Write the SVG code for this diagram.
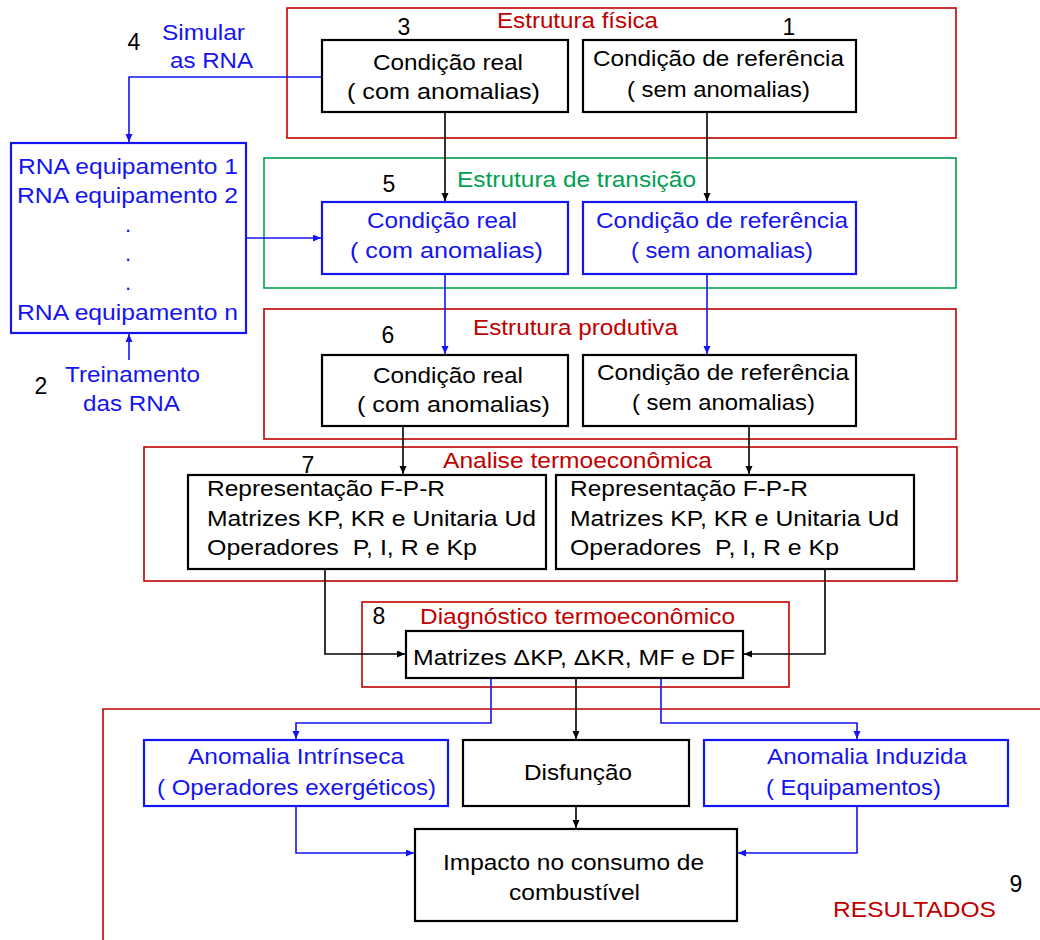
<svg xmlns="http://www.w3.org/2000/svg" width="1040" height="940" viewBox="0 0 1040 940">
  <style>
    text { font-family: "Liberation Sans", Arial, sans-serif; font-size: 22px; }
    .k { fill: #000; }
    .b { fill: #1414f0; }
    .r { fill: #c00000; }
    .g { fill: #00a050; }
    .num { fill: #000; text-anchor: middle; font-size: 23px; }
    .pre { white-space: pre; }
    .frame-r { fill: none; stroke: #c00000; stroke-width: 1.6; }
    .frame-g { fill: none; stroke: #00a050; stroke-width: 1.6; }
    .box-k { fill: #fff; stroke: #000; stroke-width: 2.2; }
    .box-b { fill: #fff; stroke: #1414f0; stroke-width: 2.2; }
    .ck { fill: none; stroke: #000; stroke-width: 1.6; marker-end: url(#ak); }
    .cb { fill: none; stroke: #1414f0; stroke-width: 1.6; marker-end: url(#ab); }
  </style>
  <defs>
    <marker id="ak" markerUnits="userSpaceOnUse" markerWidth="9" markerHeight="8" refX="8" refY="3.5" orient="auto">
      <path d="M0,0 L8,3.5 L0,7 z" fill="#000"/>
    </marker>
    <marker id="ab" markerUnits="userSpaceOnUse" markerWidth="9" markerHeight="8" refX="8" refY="3.5" orient="auto">
      <path d="M0,0 L8,3.5 L0,7 z" fill="#1414f0"/>
    </marker>
  </defs>
  <rect width="1040" height="940" fill="#fff"/>

  <!-- structure frames -->
  <g id="frames">
    <rect class="frame-r" x="287" y="8" width="669" height="130"/>
    <text class="r" x="497" y="28" textLength="161" lengthAdjust="spacingAndGlyphs">Estrutura física</text>
    <rect class="frame-g" x="264" y="158" width="692" height="130"/>
    <text class="g" x="457" y="187" textLength="239" lengthAdjust="spacingAndGlyphs">Estrutura de transição</text>
    <rect class="frame-r" x="264" y="309" width="692" height="130"/>
    <text class="r" x="473" y="335" textLength="205" lengthAdjust="spacingAndGlyphs">Estrutura produtiva</text>
    <rect class="frame-r" x="144" y="447" width="813" height="134"/>
    <text class="r" x="443" y="468" textLength="269" lengthAdjust="spacingAndGlyphs">Analise termoeconômica</text>
    <rect class="frame-r" x="362" y="602" width="427" height="85"/>
    <text class="r" x="420" y="624" textLength="315" lengthAdjust="spacingAndGlyphs">Diagnóstico termoeconômico</text>
    <path class="frame-r" d="M103,942 V709 H1042"/>
    <text class="r" x="833" y="917" textLength="163" lengthAdjust="spacingAndGlyphs">RESULTADOS</text>
  </g>

  <!-- step numbers and side labels -->
  <g id="labels">
    <text class="num" x="404" y="35">3</text>
    <text class="num" x="789" y="35">1</text>
    <text class="num" x="134" y="50">4</text>
    <text class="b" x="162" y="40" textLength="83" lengthAdjust="spacingAndGlyphs">Simular</text>
    <text class="b" x="170" y="68" textLength="83" lengthAdjust="spacingAndGlyphs">as RNA</text>
    <text class="num" x="389" y="192">5</text>
    <text class="num" x="388" y="343">6</text>
    <text class="num" x="308" y="473">7</text>
    <text class="num" x="379" y="624">8</text>
    <text class="num" x="1016" y="892">9</text>
    <text class="num" x="41" y="394">2</text>
    <text class="b" x="65" y="382" textLength="135" lengthAdjust="spacingAndGlyphs">Treinamento</text>
    <text class="b" x="83" y="411" textLength="97" lengthAdjust="spacingAndGlyphs">das RNA</text>
  </g>

  <!-- connectors -->
  <g id="connectors">
    <path class="ck" d="M445,112 V201"/>
    <path class="ck" d="M707,112 V201"/>
    <path class="cb" d="M322,77 H129 V142"/>
    <path class="cb" d="M246,238 H321"/>
    <path class="cb" d="M129,360 V334"/>
    <path class="cb" d="M445,274 V354"/>
    <path class="cb" d="M707,274 V354"/>
    <path class="ck" d="M403,426 V474"/>
    <path class="ck" d="M749,426 V474"/>
    <path class="ck" d="M325,569 V654 H405"/>
    <path class="ck" d="M825,569 V654 H744"/>
    <path class="cb" d="M491,678 V723 H296 V739"/>
    <path class="ck" d="M576,678 V739"/>
    <path class="cb" d="M661,678 V723 H857 V739"/>
    <path class="ck" d="M576,806 V828"/>
    <path class="cb" d="M296,806 V853 H414"/>
    <path class="cb" d="M857,806 V853 H738"/>
  </g>

  <!-- physical structure -->
  <g id="fis-real">
    <rect class="box-k" x="322" y="40" width="246" height="72"/>
    <text class="k" x="373" y="70" textLength="150" lengthAdjust="spacingAndGlyphs">Condição real</text>
    <text class="k" x="347" y="99" textLength="193" lengthAdjust="spacingAndGlyphs">( com anomalias)</text>
  </g>
  <g id="fis-ref">
    <rect class="box-k" x="583" y="40" width="273" height="72"/>
    <text class="k" x="593" y="66" textLength="251" lengthAdjust="spacingAndGlyphs">Condição de referência</text>
    <text class="k" x="627" y="97" textLength="183" lengthAdjust="spacingAndGlyphs">( sem anomalias)</text>
  </g>

  <!-- neural network models -->
  <g id="rna">
    <rect class="box-b" x="11" y="143" width="235" height="190"/>
    <text class="b" x="18" y="174" textLength="220" lengthAdjust="spacingAndGlyphs">RNA equipamento 1</text>
    <text class="b" x="17" y="203" textLength="221" lengthAdjust="spacingAndGlyphs">RNA equipamento 2</text>
    <text class="b" x="128" y="232" text-anchor="middle">.</text>
    <text class="b" x="128" y="261" text-anchor="middle">.</text>
    <text class="b" x="128" y="290" text-anchor="middle">.</text>
    <text class="b" x="17" y="320" textLength="221" lengthAdjust="spacingAndGlyphs">RNA equipamento n</text>
  </g>

  <!-- transition structure -->
  <g id="tra-real">
    <rect class="box-b" x="322" y="202" width="246" height="72"/>
    <text class="b" x="367" y="228" textLength="150" lengthAdjust="spacingAndGlyphs">Condição real</text>
    <text class="b" x="350" y="258" textLength="193" lengthAdjust="spacingAndGlyphs">( com anomalias)</text>
  </g>
  <g id="tra-ref">
    <rect class="box-b" x="583" y="202" width="273" height="72"/>
    <text class="b" x="596" y="228" textLength="252" lengthAdjust="spacingAndGlyphs">Condição de referência</text>
    <text class="b" x="631" y="258" textLength="182" lengthAdjust="spacingAndGlyphs">( sem anomalias)</text>
  </g>

  <!-- productive structure -->
  <g id="pro-real">
    <rect class="box-k" x="322" y="355" width="246" height="71"/>
    <text class="k" x="373" y="383" textLength="150" lengthAdjust="spacingAndGlyphs">Condição real</text>
    <text class="k" x="357" y="412" textLength="193" lengthAdjust="spacingAndGlyphs">( com anomalias)</text>
  </g>
  <g id="pro-ref">
    <rect class="box-k" x="583" y="355" width="273" height="71"/>
    <text class="k" x="597" y="380" textLength="252" lengthAdjust="spacingAndGlyphs">Condição de referência</text>
    <text class="k" x="632" y="410" textLength="183" lengthAdjust="spacingAndGlyphs">( sem anomalias)</text>
  </g>

  <!-- thermoeconomic analysis -->
  <g id="ana-real">
    <rect class="box-k" x="188" y="475" width="358" height="94"/>
    <text class="k" x="207" y="496" textLength="238" lengthAdjust="spacingAndGlyphs">Representação F-P-R</text>
    <text class="k" x="207" y="526" textLength="329" lengthAdjust="spacingAndGlyphs">Matrizes KP, KR e Unitaria Ud</text>
    <text class="k pre" x="207" y="555" textLength="270" lengthAdjust="spacingAndGlyphs" xml:space="preserve">Operadores  P, I, R e Kp</text>
  </g>
  <g id="ana-ref">
    <rect class="box-k" x="556" y="475" width="358" height="94"/>
    <text class="k" x="570" y="496" textLength="238" lengthAdjust="spacingAndGlyphs">Representação F-P-R</text>
    <text class="k" x="570" y="526" textLength="329" lengthAdjust="spacingAndGlyphs">Matrizes KP, KR e Unitaria Ud</text>
    <text class="k pre" x="570" y="555" textLength="269" lengthAdjust="spacingAndGlyphs" xml:space="preserve">Operadores  P, I, R e Kp</text>
  </g>

  <!-- diagnosis -->
  <g id="diag">
    <rect class="box-k" x="406" y="631" width="337" height="47"/>
    <text class="k" x="413" y="665" textLength="322" lengthAdjust="spacingAndGlyphs">Matrizes ΔKP, ΔKR, MF e DF</text>
  </g>

  <!-- results -->
  <g id="intrinseca">
    <rect class="box-b" x="144" y="740" width="304" height="66"/>
    <text class="b" x="188" y="764" textLength="216" lengthAdjust="spacingAndGlyphs">Anomalia Intrínseca</text>
    <text class="b" x="157" y="795" textLength="279" lengthAdjust="spacingAndGlyphs">( Operadores exergéticos)</text>
  </g>
  <g id="disfuncao">
    <rect class="box-k" x="463" y="740" width="226" height="66"/>
    <text class="k" x="524" y="780" textLength="108" lengthAdjust="spacingAndGlyphs">Disfunção</text>
  </g>
  <g id="induzida">
    <rect class="box-b" x="704" y="740" width="304" height="66"/>
    <text class="b" x="767" y="764" textLength="200" lengthAdjust="spacingAndGlyphs">Anomalia Induzida</text>
    <text class="b" x="766" y="795" textLength="175" lengthAdjust="spacingAndGlyphs">( Equipamentos)</text>
  </g>
  <g id="impacto">
    <rect class="box-k" x="415" y="829" width="322" height="92"/>
    <text class="k" x="443" y="870" textLength="261" lengthAdjust="spacingAndGlyphs">Impacto no consumo de</text>
    <text class="k" x="509" y="900" textLength="131" lengthAdjust="spacingAndGlyphs">combustível</text>
  </g>
</svg>
